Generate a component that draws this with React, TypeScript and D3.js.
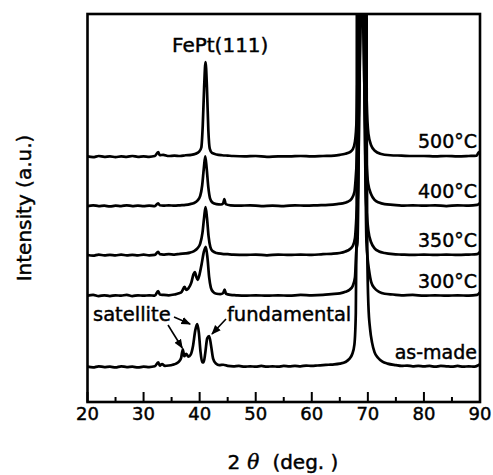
import React from "react";
import * as d3 from "d3";

// XRD patterns, 2theta (deg) vs intensity (a.u., relative to each curve's own baseline)
const asMade: [number, number][] = [
  [20, 0.3], [21, 0.1], [22, 0.4], [23, 0.2], [24, 0.3], [25, 0.1], [26, 0.4], [27, 0.2], [28, 0.3], [29, 0.1],
  [30, 0.3], [31, 0.2], [32, 0.4], [32.6, 1.4], [32.9, 0.6], [33.3, 1.0], [33.8, 0.5], [34.5, 0.6], [35.2, 0.8],
  [35.8, 1.1], [36.3, 1.6], [36.7, 2.6], [37.0, 4.8], [37.25, 3.0], [37.6, 3.6], [38.0, 2.9], [38.4, 3.4],
  [38.8, 5.5], [39.2, 9.5], [39.55, 11.3], [39.85, 9.2], [40.15, 4.2], [40.45, 1.5], [40.7, 1.4], [41.0, 3.8],
  [41.35, 7.6], [41.7, 8.2], [42.05, 5.6], [42.4, 2.4], [42.9, 1.1], [43.5, 0.7], [44.2, 0.8], [45, 0.5],
  [46, 0.4], [47, 0.5], [48, 0.3], [49, 0.4], [50, 0.3], [51, 0.5], [52, 0.3], [53, 0.4], [54, 0.3], [55, 0.5],
  [56, 0.4], [57, 0.5], [58, 0.4], [59, 0.6], [60, 0.5], [61, 0.6], [62, 0.7], [63, 0.8], [64, 0.9], [65, 1.1],
  [66, 1.5], [66.7, 2.3], [67.2, 3.5], [67.6, 6], [67.85, 14], [68.0, 40], [68.1, 200], [69.7, 200], [69.8, 60],
  [69.9, 30], [70.1, 16], [70.4, 10], [70.75, 6.5], [71.2, 4], [71.8, 2.6], [72.6, 1.6], [73.5, 1.1], [75, 0.7],
  [76, 0.5], [77, 0.6], [78, 0.4], [79, 0.5], [80, 0.4], [81, 0.5], [82, 0.3], [83, 0.5], [84, 0.4], [85, 0.3],
  [86, 0.5], [87, 0.3], [88, 0.4], [89, 0.3], [89.6, 0.6], [90, 1.0],
];

const t300: [number, number][] = [
  [20, 0.3], [21, 0.5], [22, 0.2], [23, 0.4], [24, 0.2], [25, 0.4], [26, 0.3], [27, 0.5], [28, 0.2], [29, 0.4],
  [30, 0.3], [31, 0.4], [32, 0.3], [32.6, 1.5], [32.9, 0.6], [33.5, 0.5], [34.5, 0.4], [35.5, 0.6], [36.3, 0.9],
  [36.8, 1.3], [37.3, 2.6], [37.6, 1.8], [38.0, 2.2], [38.5, 3.6], [38.9, 5.8], [39.15, 6.4], [39.4, 5.2],
  [39.65, 4.4], [39.95, 5.6], [40.35, 8.4], [40.75, 11.6], [41.1, 12.9], [41.4, 10], [41.7, 5], [42.0, 2.4],
  [42.4, 1.3], [43, 0.8], [43.7, 0.7], [44.2, 1.0], [44.45, 1.9], [44.7, 0.8], [45.5, 0.5], [46.5, 0.4],
  [48, 0.3], [50, 0.4], [52, 0.3], [54, 0.4], [56, 0.3], [58, 0.5], [60, 0.4], [62, 0.5], [63.5, 0.7], [65, 0.9],
  [66, 1.3], [66.8, 1.9], [67.3, 2.8], [67.7, 5], [67.95, 12], [68.15, 14], [68.95, 123], [69.75, 14],
  [69.95, 10], [70.2, 7], [70.6, 3.8], [71.2, 2.2], [72, 1.3], [73, 0.8], [74.5, 0.6], [76, 0.4], [78, 0.5],
  [80, 0.3], [82, 0.4], [84, 0.3], [86, 0.4], [88, 0.3], [89.5, 0.5], [90, 1.2],
];

const t350: [number, number][] = [
  [20, 0.3], [21, 0.1], [22, 0.4], [23, 0.2], [24, 0.3], [25, 0.2], [26, 0.4], [27, 0.2], [28, 0.3], [29, 0.2],
  [30, 0.4], [31, 0.2], [32, 0.3], [32.6, 1.1], [32.9, 0.5], [33.5, 0.4], [34.5, 0.5], [35.5, 0.4], [36.5, 0.6],
  [37.5, 0.7], [38.3, 0.9], [39.0, 1.3], [39.6, 2.0], [40.1, 3.2], [40.5, 6], [40.8, 10], [41.05, 12.6],
  [41.3, 10], [41.6, 5], [41.9, 2.4], [42.3, 1.3], [43, 0.8], [44, 0.6], [45, 0.5], [46, 0.4], [48, 0.3],
  [50, 0.4], [52, 0.2], [54, 0.4], [56, 0.3], [58, 0.4], [60, 0.3], [62, 0.5], [63.5, 0.6], [65, 0.8], [66, 1.2],
  [66.8, 1.8], [67.3, 2.6], [67.7, 4.6], [68.0, 11], [68.2, 15], [68.95, 88], [69.65, 15], [69.8, 11],
  [70.1, 6.5], [70.6, 3.5], [71.2, 2], [72, 1.2], [73, 0.8], [74.5, 0.5], [76, 0.4], [78, 0.3],
  [80, 0.4], [82, 0.3], [84, 0.4], [86, 0.3], [88, 0.4], [89.5, 0.5], [90, 1.1],
];

const t400: [number, number][] = [
  [20, 0.2], [21, 0.4], [22, 0.2], [23, 0.3], [24, 0.1], [25, 0.3], [26, 0.2], [27, 0.4], [28, 0.2], [29, 0.3],
  [30, 0.2], [31, 0.3], [32, 0.2], [32.6, 0.9], [32.9, 0.4], [33.5, 0.3], [34.5, 0.4], [35.5, 0.3], [36.5, 0.4],
  [37.5, 0.5], [38.3, 0.7], [39.0, 1.0], [39.6, 1.6], [40.1, 2.8], [40.45, 5.5], [40.75, 10], [41.0, 13],
  [41.25, 10], [41.55, 5], [41.85, 2.2], [42.3, 1.1], [43, 0.7], [43.8, 0.6], [44.2, 0.9], [44.4, 2.0],
  [44.65, 0.7], [45.5, 0.4], [47, 0.3], [49, 0.4], [51, 0.2], [53, 0.3], [55, 0.2], [57, 0.4], [59, 0.3],
  [61, 0.4], [63, 0.5], [64.5, 0.7], [65.5, 0.9], [66.4, 1.3], [67.1, 2.1], [67.6, 3.8], [67.95, 10], [68.3, 20],
  [68.95, 56], [69.55, 20], [69.75, 12], [70.05, 6], [70.6, 3.2], [71.2, 1.8], [72, 1.1],
  [73, 0.7], [74.5, 0.5], [76, 0.3], [78, 0.4], [80, 0.3], [82, 0.4], [84, 0.2], [86, 0.4], [88, 0.3],
  [89.5, 0.5], [90, 1.0],
];

const t500: [number, number][] = [
  [20, 0.2], [21, 0], [22, 0.3], [23, 0.1], [24, 0.2], [25, 0], [26, 0.2], [27, 0.1], [28, 0.3], [29, 0.1],
  [30, 0.2], [31, 0.1], [32, 0.3], [32.6, 1.3], [32.9, 0.5], [33.5, 0.6], [34.5, 0.3], [35.5, 0.4], [36.5, 0.3],
  [37.5, 0.5], [38.5, 0.6], [39.3, 0.9], [39.9, 1.4], [40.3, 2.5], [40.55, 8], [40.8, 18], [41.05, 24.5],
  [41.3, 18], [41.55, 7], [41.8, 2.2], [42.2, 1.1], [43, 0.7], [44, 0.5], [45, 0.4], [46, 0.3], [48, 0.2],
  [50, 0.3], [52, 0.1], [54, 0.2], [56, 0.2], [58, 0.3], [60, 0.2], [62, 0.3], [64, 0.4], [65, 0.6], [66, 0.9],
  [66.8, 1.3], [67.3, 2], [67.7, 4], [68.0, 10], [68.25, 40], [68.4, 400], [69.4, 400], [69.6, 40], [69.8, 14],
  [70.1, 6], [70.6, 3], [71.3, 1.6], [72.2, 0.9], [74, 0.5], [76, 0.4], [78, 0.3], [80, 0.3], [82, 0.2],
  [84, 0.3], [86, 0.2], [88, 0.3], [89.4, 0.4], [89.8, 1.3], [90, 0.8],
];

const seriesData = [asMade, t300, t350, t400, t500];
const seriesLabels = ["as-made", "300°C", "350°C", "400°C", "500°C"];
const seriesOffsets = [8.8, 27.1, 37.6, 50.3, 63.1];

const majorTicks = [20, 30, 40, 50, 60, 70, 80, 90];
const minorTicks = [25, 35, 45, 55, 65, 75, 85];

const W = 493;
const H = 475;
const margin = { top: 14, right: 13, bottom: 73, left: 87.5 };
const FONT = "'DejaVu Sans', Arial, sans-serif";

export default function App() {
  const x = d3.scaleLinear().domain([20, 90]).range([margin.left, W - margin.right]);
  const y = d3.scaleLinear().domain([0, 100]).range([H - margin.bottom, margin.top]);
  const x0 = margin.left;
  const x1 = W - margin.right;
  const y0 = margin.top;
  const y1 = H - margin.bottom;

  const line = (offset: number) =>
    d3
      .line<[number, number]>()
      .x((d) => x(d[0]))
      .y((d) => y(d[1] + offset))
      .curve(d3.curveMonotoneX);

  // slight stroke on the text to mimic the heavy scanned lettering
  const txt = { fill: "#000", stroke: "#000", strokeWidth: 0.45 };

  return (
    <svg
      width={W}
      height={H}
      style={{ position: "absolute", left: 0, top: 0, background: "#fff" }}
      fontFamily={FONT}
    >
      <defs>
        <clipPath id="plot-clip">
          <rect x={x0} y={y0} width={x1 - x0} height={y1 - y0} />
        </clipPath>
        <marker id="arrow" viewBox="0 0 10 10" refX="9" refY="5" markerWidth="6" markerHeight="6" orient="auto">
          <path d="M0,1 L10,5 L0,9 z" fill="#000" />
        </marker>
      </defs>

      <g clipPath="url(#plot-clip)">
        {seriesData.map((s, i) => (
          <path
            key={seriesLabels[i]}
            d={line(seriesOffsets[i])(s) || ""}
            fill="none"
            stroke="#000"
            strokeWidth={2.7}
            strokeLinejoin="round"
          />
        ))}
      </g>

      {/* curve labels */}
      {seriesLabels.map((lab, i) => (
        <text
          key={lab}
          x={x1 - 3}
          y={y(seriesOffsets[i]) - 9}
          textAnchor="end"
          fontSize={19}
          {...txt}
        >
          {lab}
        </text>
      ))}

      {/* annotations */}
      <text x={172} y={52} fontSize={20} {...txt}>
        FePt(111)
      </text>
      <text x={93} y={321} fontSize={19.5} {...txt}>
        satellite
      </text>
      <text x={227} y={321} fontSize={19.5} {...txt}>
        fundamental
      </text>
      <line x1={174} y1={317} x2={x(38.3)} y2={324} stroke="#000" strokeWidth={1.6} markerEnd="url(#arrow)" />
      <line x1={168} y1={325} x2={x(36.9)} y2={348} stroke="#000" strokeWidth={1.6} markerEnd="url(#arrow)" />
      <line x1={226} y1={319} x2={x(42.2)} y2={334} stroke="#000" strokeWidth={1.6} markerEnd="url(#arrow)" />

      {/* frame */}
      <rect x={x0} y={y0} width={x1 - x0} height={y1 - y0} fill="none" stroke="#000" strokeWidth={2.6} />

      {/* inward bottom ticks */}
      {majorTicks.map((t) => (
        <line key={"M" + t} x1={x(t)} x2={x(t)} y1={y1} y2={y1 - 10} stroke="#000" strokeWidth={2} />
      ))}
      {minorTicks.map((t) => (
        <line key={"m" + t} x1={x(t)} x2={x(t)} y1={y1} y2={y1 - 5} stroke="#000" strokeWidth={2} />
      ))}
      {majorTicks.map((t) => (
        <text key={"L" + t} x={x(t)} y={y1 + 18} textAnchor="middle" fontSize={18} {...txt}>
          {t}
        </text>
      ))}

      {/* axis titles */}
      <text x={283} y={469} textAnchor="middle" fontSize={20} {...txt}>
        2
        <tspan dx={7} fontFamily="'DejaVu Serif', serif" fontStyle="italic">
          θ
        </tspan>
        <tspan dx={13}>(deg. )</tspan>
      </text>
      <text transform={`translate(31,${(y0 + y1) / 2}) rotate(-90)`} textAnchor="middle" fontSize={20} {...txt}>
        Intensity (a.u.)
      </text>
    </svg>
  );
}
